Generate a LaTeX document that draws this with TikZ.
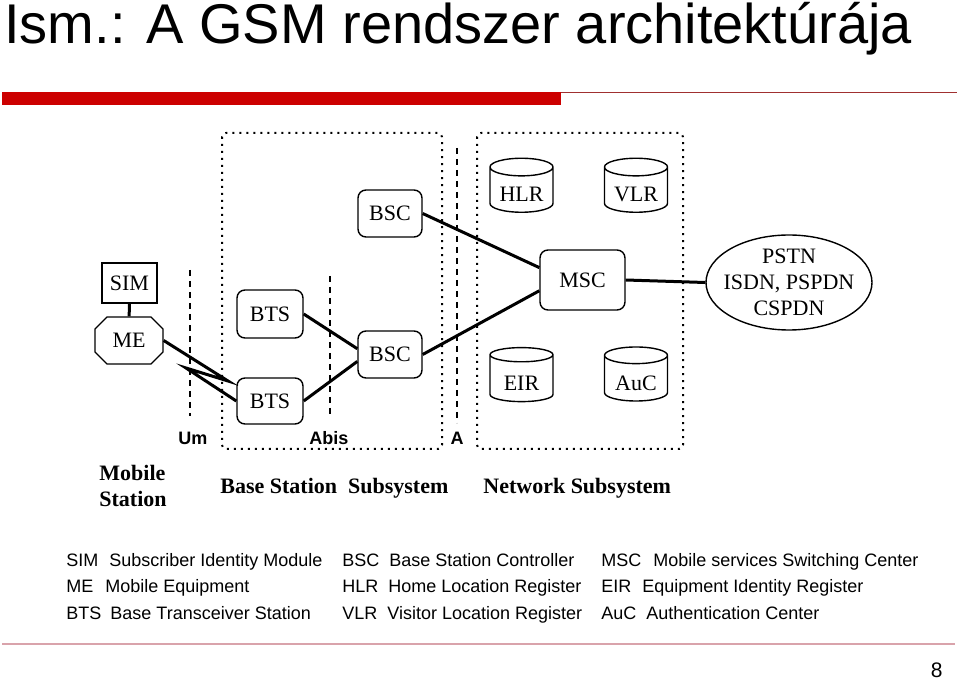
\documentclass[tikz,border=0pt]{standalone}
\usepackage{fontspec}
\setmainfont{Liberation Sans}
\newfontfamily\boxfont{Liberation Serif}
\usepackage{tikz}
\usetikzlibrary{shapes.geometric, shapes.misc}

\definecolor{hdrred}{HTML}{CC0000}
\definecolor{hdrdark}{HTML}{A03030}
\definecolor{footpink}{HTML}{D9A3AB}

\tikzset{
  unitbox/.style={draw, line width=0.7pt, rounded corners=4pt, inner sep=0pt,
    font=\boxfont\fontsize{11}{13}\selectfont},
  regbox/.style={draw, cylinder, shape border rotate=90, aspect=0.4, line width=0.7pt,
    minimum width=31.5pt, minimum height=27pt, inner sep=0pt,
    text height=12pt, text depth=0pt,
    font=\boxfont\fontsize{11}{13}\selectfont},
  link/.style={line width=1.5pt},
  subbox/.style={line width=1pt, dash pattern=on 1pt off 2.5pt, rounded corners=2pt},
  iface/.style={line width=0.8pt, dash pattern=on 3pt off 2.5pt},
  ifacelabel/.style={font=\bfseries\fontsize{9}{10}\selectfont, inner sep=0pt},
  sublabel/.style={font=\boxfont\bfseries\fontsize{11}{13}\selectfont, anchor=west,
    inner sep=0pt, align=left},
  legitem/.style={font=\fontsize{9}{10}\selectfont, anchor=base west, inner sep=0pt},
}

\begin{document}
\begin{tikzpicture}[x=0.5pt, y=-0.5pt]
    \useasboundingbox (0,0) rectangle (960,679);

    % Title and header bar
    \node[anchor=base west, inner sep=0pt, font=\fontsize{28}{30}\selectfont] (title) at (4,44)
        {Ism.: A GSM rendszer architektúrája};
    \fill[hdrred] (2,92) rectangle (561,105);
    \draw[hdrdark, line width=0.6pt] (561,92.5) -- (957,92.5);

    % Subsystem frames
    \draw[subbox] (222,133) rectangle (442,449);
    \draw[subbox] (477,133) rectangle (683,449);

    % Interfaces
    \draw[iface] (190,270) -- (190,416);
    \draw[iface] (330,276) -- (330,416);
    \draw[iface] (457,148) -- (457,423);
    \node[ifacelabel] (um) at (193,438) {Um};
    \node[ifacelabel] (abis) at (329,438) {Abis};
    \node[ifacelabel] (aif) at (457,438) {A};

    % Mobile station
    \node[draw, line width=0.7pt, minimum width=27.5pt, minimum height=20pt, inner sep=0pt,
        font=\boxfont\fontsize{11}{13}\selectfont] (sim) at (129.5,283) {SIM};
    \node[draw, chamfered rectangle, chamfered rectangle xsep=3pt, chamfered rectangle ysep=3pt,
        line width=0.7pt, minimum width=34pt, minimum height=23.5pt, inner sep=0pt,
        font=\boxfont\fontsize{11}{13}\selectfont] (me) at (129,340.5) {ME};

    % Base station subsystem
    \node[unitbox, minimum width=33pt, minimum height=24pt] (btsa) at (270,314) {BTS};
    \node[unitbox, minimum width=33pt, minimum height=23pt] (btsb) at (270,401) {BTS};
    \node[unitbox, minimum width=32pt, minimum height=23.5pt] (bsca) at (390,213.5) {BSC};
    \node[unitbox, minimum width=32pt, minimum height=23.5pt] (bscb) at (390,354.5) {BSC};

    % Network subsystem
    \node[unitbox, minimum width=42.5pt, minimum height=30pt] (msc) at (582.5,280) {MSC};
    \node[regbox] (hlr) at (521.5,190) {HLR};
    \node[regbox] (vlr) at (636,190) {VLR};
    \node[regbox] (eir) at (521.5,378.5) {EIR};
    \node[regbox] (auc) at (636,378.5) {AuC};
    \node[draw, ellipse, line width=0.7pt, minimum width=83pt, minimum height=47.5pt,
        inner xsep=-3.4pt, inner ysep=-2.4pt,
        align=center, font=\boxfont\fontsize{11}{13}\selectfont] (pstn) at (789,282.5)
        {PSTN\\ISDN, PSPDN\\CSPDN};

    % Links
    \draw[link] (sim) -- (me);
    \coordinate (zigA) at (228,381);
    \coordinate (zigB) at (186,368);
    \draw[link, miter limit=20] (me.east) -- (zigA) -- (zigB) -- (btsb.west);
    \draw[link] (btsa.east) -- (bscb.170);
    \draw[link] (btsb.east) -- (bscb.192);
    \draw[link] (bsca.east) -- (msc.164);
    \draw[link] (bscb.east) -- (msc.194);
    \draw[link] (msc.east) -- (pstn.west);

    % Subsystem names
    \node[sublabel] (msname) at (99,486) {Mobile\\Station};
    \node[sublabel] (bssname) at (220,488) {Base Station\ \ Subsystem};
    \node[sublabel] (nssname) at (483,488) {Network Subsystem};

    % Abbreviations
    \node[legitem] (lsim) at (66,567) {SIM\hspace{5.5pt}Subscriber Identity Module};
    \node[legitem] (lme) at (66,593) {ME\hspace{6pt}Mobile Equipment};
    \node[legitem] (lbts) at (66,619) {BTS\hspace{4.5pt}Base Transceiver Station};
    \node[legitem] (lbsc) at (342,567) {BSC\hspace{5pt}Base Station Controller};
    \node[legitem] (lhlr) at (342,593) {HLR\hspace{5pt}Home Location Register};
    \node[legitem] (lvlr) at (342,619) {VLR\hspace{5pt}Visitor Location Register};
    \node[legitem] (lmsc) at (601,567) {MSC\hspace{6pt}Mobile services Switching Center};
    \node[legitem] (leir) at (601,593) {EIR\hspace{5.5pt}Equipment Identity Register};
    \node[legitem] (lauc) at (601,619) {AuC\hspace{5pt}Authentication Center};

    % Footer
    \draw[footpink, line width=0.8pt] (2,644) -- (955,644);
    \node[anchor=base east, inner sep=0pt, font=\fontsize{10.5}{12}\selectfont] (pagenum) at (943,677) {8};
\end{tikzpicture}
\end{document}
